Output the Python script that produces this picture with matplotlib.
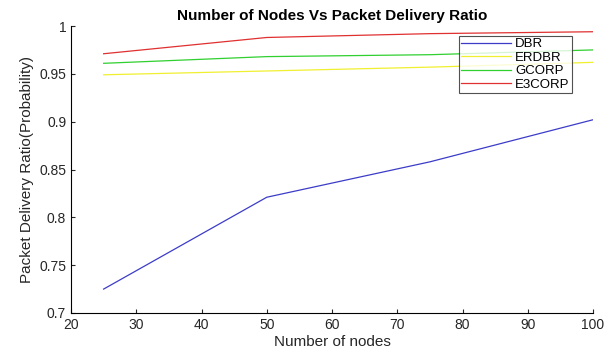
import numpy as np
import matplotlib.pyplot as plt

plt.rcParams['font.family'] = ['Liberation Sans', 'DejaVu Sans']

nodes = [25, 50, 75, 100]
dbr = [0.725, 0.821, 0.858, 0.902]
erdbr = [0.949, 0.953, 0.957, 0.962]
gcorp = [0.961, 0.968, 0.970, 0.975]
e3corp = [0.971, 0.988, 0.992, 0.994]

fig = plt.figure(figsize=(6.05, 3.49), dpi=100)
ax = fig.add_axes([71/605, 36/349, (593-71)/605, (313-26)/349])

ax.plot(nodes, dbr, color='#3c3cc8', lw=0.9, label='DBR')
ax.plot(nodes, erdbr, color='#f0f030', lw=0.9, label='ERDBR')
ax.plot(nodes, gcorp, color='#30d030', lw=0.9, label='GCORP')
ax.plot(nodes, e3corp, color='#e03030', lw=0.9, label='E3CORP')

ax.set_xlim(20, 100)
ax.set_ylim(0.7, 1.0)
ax.set_xticks(np.arange(20, 101, 10))
ax.set_yticks([0.7, 0.75, 0.8, 0.85, 0.9, 0.95, 1.0])
ax.set_yticklabels(['0.7', '0.75', '0.8', '0.85', '0.9', '0.95', '1'])
ax.spines['top'].set_visible(False)
ax.spines['right'].set_visible(False)
ax.tick_params(direction='in', length=3, labelsize=10, colors='#262626', labelcolor='#262626')

ax.set_xlabel('Number of nodes', fontsize=11, color='#262626', labelpad=2)
ax.set_ylabel('Packet Delivery Ratio(Probability)', fontsize=11, color='#262626', labelpad=4)
ax.set_title('Number of Nodes Vs Packet Delivery Ratio', fontsize=11, fontweight='bold', pad=4)

leg = ax.legend(loc='upper left', bbox_to_anchor=(459/605, 1 - 36/349), bbox_transform=fig.transFigure,
                fontsize=9.5, frameon=True, fancybox=False, edgecolor='#262626',
                handlelength=3.8, handletextpad=0.3, borderpad=0.15, labelspacing=0.1,
                borderaxespad=0)
leg.get_frame().set_linewidth(0.8)

fig.savefig('out.png', dpi=100)
